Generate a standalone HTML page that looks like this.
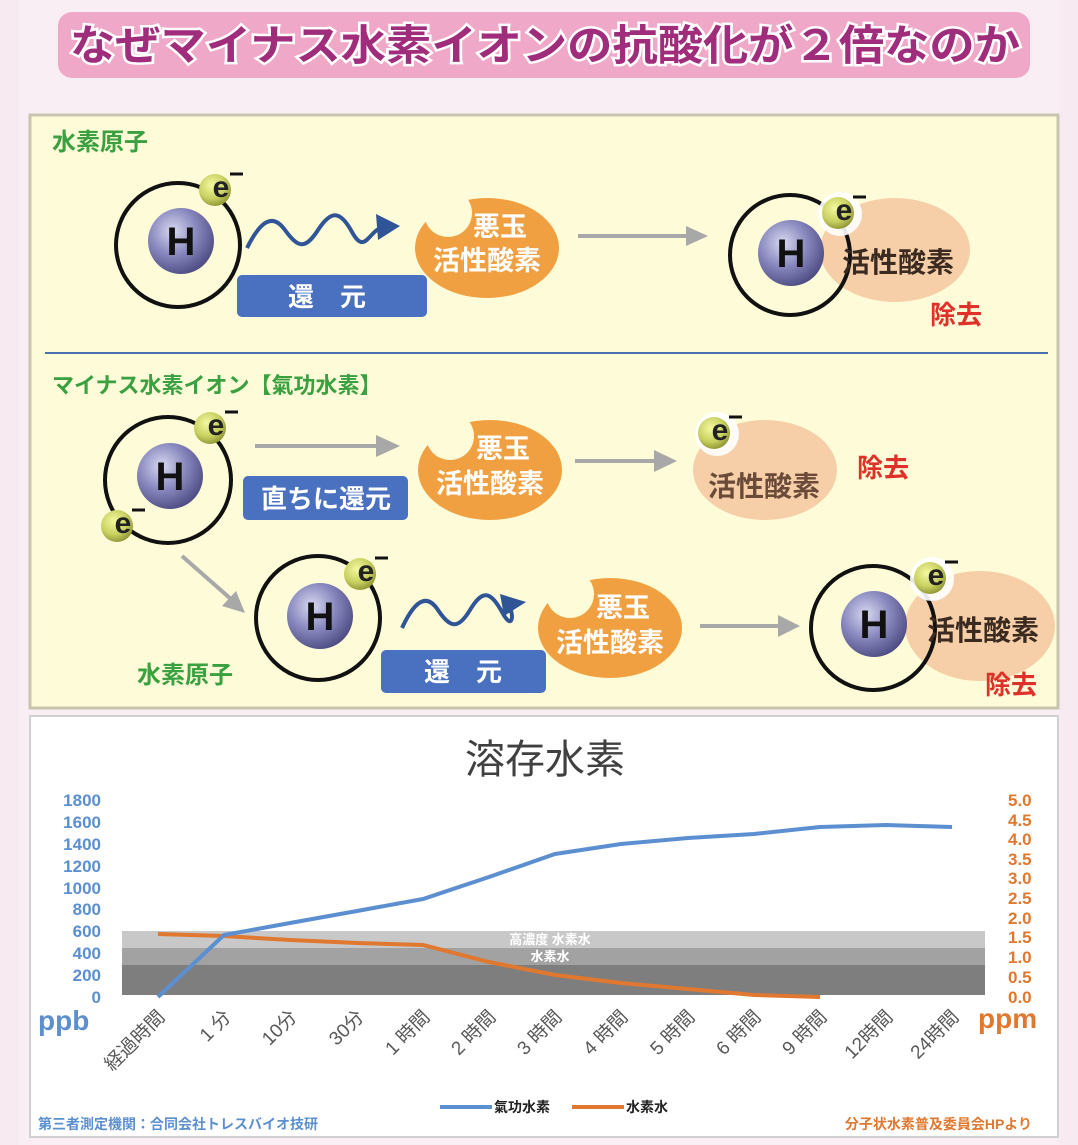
<!DOCTYPE html>
<html><head><meta charset="utf-8"><style>
html,body{margin:0;padding:0;background:#f8eaf1;}
svg{display:block;font-family:"Liberation Sans","Noto Sans CJK JP",sans-serif;}
</style></head><body>
<svg width="1078" height="1145" viewBox="0 0 1078 1145" xmlns="http://www.w3.org/2000/svg">
<defs>
<radialGradient id="hb" cx="0.38" cy="0.35" r="0.7"><stop offset="0" stop-color="#d8d8f0"/><stop offset="0.5" stop-color="#8a8ac0"/><stop offset="1" stop-color="#4a4a80"/></radialGradient>
<radialGradient id="eb" cx="0.4" cy="0.35" r="0.7"><stop offset="0" stop-color="#f4f8a0"/><stop offset="0.6" stop-color="#c8d060"/><stop offset="1" stop-color="#8a9030"/></radialGradient>
</defs>
<rect width="1078" height="1145" fill="#f8eaf1"/>
<rect x="18" y="0" width="1042" height="1145" fill="#f9eef4"/>
<!-- title -->
<rect x="58" y="12" width="972" height="66" rx="14" fill="#f0a8c8"/>
<text x="545" y="60" text-anchor="middle" font-size="42" font-weight="bold" fill="#a02c7c" stroke="#fff" stroke-width="5" paint-order="stroke" textLength="950" lengthAdjust="spacingAndGlyphs">なぜマイナス水素イオンの抗酸化が２倍なのか</text>
<!-- yellow panel -->
<rect x="30" y="115" width="1028" height="593" fill="#fefcd8" stroke="#c8c4b0" stroke-width="3"/>
<text x="52" y="150" font-size="24" font-weight="bold" fill="#3aa040">水素原子</text>
<line x1="45" y1="353" x2="1048" y2="353" stroke="#4a70b0" stroke-width="2"/>
<text x="52" y="393" font-size="22" font-weight="bold" fill="#3aa040">マイナス水素イオン【氣功水素】</text>
<text x="137" y="683" font-size="24" font-weight="bold" fill="#3aa040">水素原子</text>

<!-- peach blobs -->
<ellipse cx="895" cy="250" rx="75" ry="52" fill="#f6cfa8"/>
<ellipse cx="765" cy="470" rx="72" ry="50" fill="#f6cfa8"/>
<ellipse cx="980" cy="626" rx="75" ry="55" fill="#f6cfa8"/>

<!-- orange blobs with bite -->
<g fill="#f0a040">
<ellipse cx="487" cy="248" rx="72" ry="50"/>
<ellipse cx="490" cy="470" rx="72" ry="50"/>
<ellipse cx="610" cy="628" rx="72" ry="50"/>
</g>
<g fill="#fefcd8">
<circle cx="448" cy="213" r="24"/>
<circle cx="450" cy="436" r="24"/>
<circle cx="570" cy="594" r="24"/>
</g>
<g font-size="27" font-weight="bold" fill="#fff" text-anchor="middle">
<text x="500" y="236">悪玉</text><text x="487" y="270">活性酸素</text>
<text x="503" y="458">悪玉</text><text x="490" y="493">活性酸素</text>
<text x="623" y="617">悪玉</text><text x="610" y="652">活性酸素</text>
</g>

<!-- atoms -->
<g fill="none" stroke="#111" stroke-width="4">
<circle cx="178" cy="245" r="62"/>
<circle cx="790" cy="255" r="60"/>
<circle cx="168" cy="480" r="63"/>
<circle cx="318" cy="618" r="62"/>
<circle cx="873" cy="628" r="62"/>
</g>
<g fill="url(#hb)">
<circle cx="181" cy="241" r="33"/>
<circle cx="791" cy="253" r="33"/>
<circle cx="170" cy="476" r="33"/>
<circle cx="320" cy="616" r="33"/>
<circle cx="874" cy="624" r="33"/>
</g>
<g font-size="40" font-weight="bold" fill="#111" text-anchor="middle">
<text x="181" y="255">H</text><text x="791" y="267">H</text><text x="170" y="490">H</text><text x="320" y="630">H</text><text x="874" y="638">H</text>
</g>
<text x="898" y="272" font-size="28" font-weight="bold" fill="#3a2a20" text-anchor="middle">活性酸素</text>
<text x="764" y="496" font-size="28" font-weight="bold" fill="#6a4a38" text-anchor="middle">活性酸素</text>
<text x="983" y="640" font-size="28" font-weight="bold" fill="#3a2a20" text-anchor="middle">活性酸素</text>
<!-- electrons -->
<g>
<circle cx="840" cy="214" r="22" fill="#fff" opacity="0.9"/>
<circle cx="717" cy="434" r="22" fill="#fff" opacity="0.9"/>
<circle cx="932" cy="579" r="22" fill="#fff" opacity="0.9"/>
</g>
<g fill="url(#eb)">
<circle cx="215" cy="190" r="16"/><circle cx="838" cy="213" r="16"/>
<circle cx="210" cy="428" r="16"/><circle cx="117" cy="526" r="16"/>
<circle cx="714" cy="433" r="16"/><circle cx="360" cy="574" r="16"/>
<circle cx="930" cy="578" r="16"/>
</g>
<g font-size="30" font-weight="bold" fill="#222" text-anchor="middle">
<text x="221" y="197">e</text><text x="844" y="220">e</text>
<text x="216" y="435">e</text><text x="123" y="533">e</text>
<text x="720" y="440">e</text><text x="366" y="581">e</text>
<text x="936" y="585">e</text>
</g>
<g stroke="#111" stroke-width="3">
<line x1="230" y1="174" x2="243" y2="174"/><line x1="853" y1="197" x2="866" y2="197"/>
<line x1="225" y1="412" x2="238" y2="412"/><line x1="132" y1="510" x2="145" y2="510"/>
<line x1="729" y1="417" x2="742" y2="417"/><line x1="375" y1="558" x2="388" y2="558"/>
<line x1="945" y1="562" x2="958" y2="562"/>
</g>

<!-- wavy arrows -->
<path d="M247,248 C260,222 272,212 285,230 S305,250 318,230 S340,210 352,232 S368,234 380,228" fill="none" stroke="#2f5597" stroke-width="4"/>
<path d="M376,214 L400,226 L378,240 z" fill="#2f5597"/>
<path d="M402,628 C414,602 426,592 438,610 S458,630 470,610 S490,590 502,612 S514,610 508,606" fill="none" stroke="#2f5597" stroke-width="4"/>
<path d="M500,594 L526,602 L504,616 z" fill="#2f5597"/>

<!-- grey arrows -->
<g stroke="#a8a8a8" stroke-width="4" fill="#a8a8a8">
<line x1="578" y1="236" x2="690" y2="236"/><path d="M686,226 L708,236 L686,246 z" stroke="none"/>
<line x1="255" y1="446" x2="380" y2="446"/><path d="M376,435 L400,446 L376,457 z" stroke="none"/>
<line x1="575" y1="461" x2="658" y2="461"/><path d="M654,450 L677,461 L654,472 z" stroke="none"/>
<line x1="182" y1="556" x2="232" y2="600"/><path d="M222,606 L245,613 L236,591 z" stroke="none"/>
<line x1="700" y1="626" x2="782" y2="626"/><path d="M778,615 L800,626 L778,637 z" stroke="none"/>
</g>

<!-- blue boxes -->
<g fill="#4a70c0">
<rect x="237" y="275" width="190" height="42" rx="5"/>
<rect x="243" y="476" width="165" height="44" rx="5"/>
<rect x="381" y="650" width="165" height="43" rx="5"/>
</g>
<g font-size="26" font-weight="bold" fill="#fff" text-anchor="middle">
<text x="327" y="306">還　元</text>
<text x="326" y="508">直ちに還元</text>
<text x="463" y="681">還　元</text>
</g>
<g font-size="26" font-weight="bold" fill="#e0302a">
<text x="930" y="324">除去</text><text x="857" y="477">除去</text><text x="985" y="694">除去</text>
</g>

<!-- chart panel -->
<rect x="30" y="716" width="1028" height="421" fill="#fff" stroke="#d0d0d0" stroke-width="2"/>
<text x="545" y="773" text-anchor="middle" font-size="40" fill="#404040">溶存水素</text>
<!-- bands -->
<rect x="122" y="931" width="863" height="17" fill="#c8c8c8"/>
<rect x="122" y="948" width="863" height="17" fill="#a2a2a2"/>
<rect x="122" y="965" width="863" height="30" fill="#7e7e7e"/>
<text x="550" y="944" text-anchor="middle" font-size="13" font-weight="bold" fill="#fff">高濃度 水素水</text>
<text x="550" y="961" text-anchor="middle" font-size="13" font-weight="bold" fill="#fff">水素水</text>
<!-- left axis -->
<g font-size="17" font-weight="bold" fill="#5b8fd0" text-anchor="end">
<text x="101" y="806">1800</text><text x="101" y="828">1600</text><text x="101" y="850">1400</text><text x="101" y="872">1200</text><text x="101" y="894">1000</text><text x="101" y="915">800</text><text x="101" y="937">600</text><text x="101" y="959">400</text><text x="101" y="981">200</text><text x="101" y="1003">0</text>
</g>
<text x="38" y="1030" font-size="28" font-weight="bold" fill="#5b8fd0">ppb</text>
<g font-size="17" font-weight="bold" fill="#e07830">
<text x="1008" y="806">5.0</text><text x="1008" y="826">4.5</text><text x="1008" y="845">4.0</text><text x="1008" y="865">3.5</text><text x="1008" y="884">3.0</text><text x="1008" y="904">2.5</text><text x="1008" y="924">2.0</text><text x="1008" y="943">1.5</text><text x="1008" y="963">1.0</text><text x="1008" y="983">0.5</text><text x="1008" y="1003">0.0</text>
</g>
<text x="978" y="1028" font-size="28" font-weight="bold" fill="#e07830">ppm</text>
<!-- lines -->
<polyline fill="none" stroke="#e07830" stroke-width="4" points="158,934 224,936 290,940 357,943 423,945 489,962 555,975 621,983 688,989 754,995 820,997"/>
<polyline fill="none" stroke="#5b8fd0" stroke-width="4" points="158,997 224,935 290,923 357,911 423,899 489,877 555,854 621,844 688,838 754,834 820,827 886,825 952,827"/>
<!-- x labels -->
<g font-size="19" fill="#595959" text-anchor="end">
<text transform="translate(166,1018) rotate(-45)">経過時間</text>
<text transform="translate(232,1018) rotate(-45)">1 分</text>
<text transform="translate(298,1018) rotate(-45)">10分</text>
<text transform="translate(365,1018) rotate(-45)">30分</text>
<text transform="translate(431,1018) rotate(-45)">1 時間</text>
<text transform="translate(497,1018) rotate(-45)">2 時間</text>
<text transform="translate(563,1018) rotate(-45)">3 時間</text>
<text transform="translate(629,1018) rotate(-45)">4 時間</text>
<text transform="translate(696,1018) rotate(-45)">5 時間</text>
<text transform="translate(762,1018) rotate(-45)">6 時間</text>
<text transform="translate(828,1018) rotate(-45)">9 時間</text>
<text transform="translate(894,1018) rotate(-45)">12時間</text>
<text transform="translate(960,1018) rotate(-45)">24時間</text>
</g>
<!-- legend -->
<line x1="440" y1="1107" x2="492" y2="1107" stroke="#5b8fd0" stroke-width="4"/>
<text x="494" y="1112" font-size="14" font-weight="bold" fill="#222">氣功水素</text>
<line x1="572" y1="1107" x2="624" y2="1107" stroke="#e07830" stroke-width="4"/>
<text x="626" y="1112" font-size="14" font-weight="bold" fill="#222">水素水</text>
<text x="38" y="1129" font-size="14" font-weight="bold" fill="#5b8fd0">第三者測定機関：合同会社トレスバイオ技研</text>
<text x="1032" y="1129" font-size="14" font-weight="bold" fill="#e07830" text-anchor="end">分子状水素普及委員会HPより</text>
</svg>
</body></html>
